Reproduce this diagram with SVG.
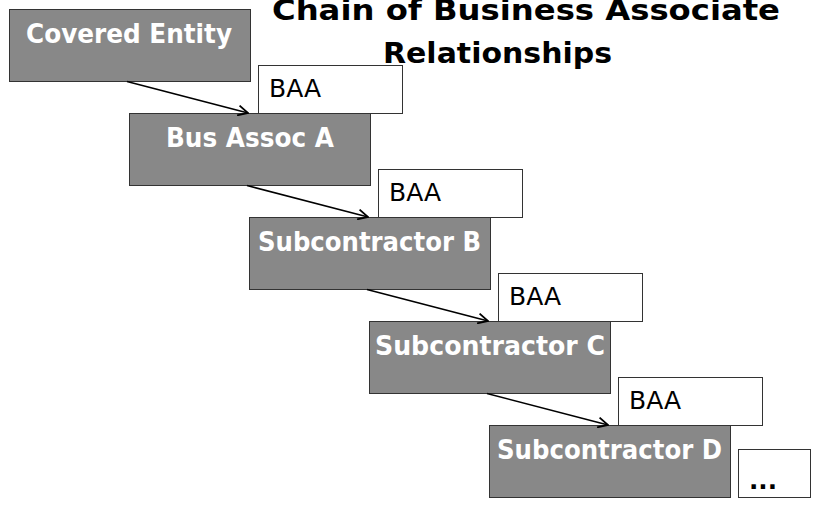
<svg xmlns="http://www.w3.org/2000/svg" width="834" height="506" viewBox="0 0 834 506">
<defs>
<style>
.node rect{fill:#888888;stroke:#333333;stroke-width:1}
.node text{fill:#ffffff;font-family:"DejaVu Sans",sans-serif;font-weight:bold;font-size:26px}
.baa rect{fill:#ffffff;stroke:#333333;stroke-width:1}
.baa text{fill:#000000;font-family:"DejaVu Sans",sans-serif;font-size:24px}
.title{fill:#000000;font-family:"DejaVu Sans",sans-serif;font-weight:bold;font-size:29px}
.conn line{stroke:#000000;stroke-width:1.6;fill:none}
</style>
<marker id="arr" viewBox="0 0 12 12" refX="11" refY="6" markerWidth="12" markerHeight="12" markerUnits="userSpaceOnUse" orient="auto">
<path d="M1,1 L11,6 L1,11" fill="none" stroke="#000000" stroke-width="1.8"/>
</marker>
</defs>
<rect width="834" height="506" fill="#ffffff"/>
<g id="title">
<text class="title" x="272" y="20" textLength="508" lengthAdjust="spacingAndGlyphs">Chain of Business Associate</text>
<text class="title" x="383" y="63" textLength="229" lengthAdjust="spacingAndGlyphs">Relationships</text>
</g>
<g id="covered-entity" class="node">
<rect x="9.5" y="9.5" width="241" height="72"/>
<text x="26" y="43" textLength="206" lengthAdjust="spacingAndGlyphs">Covered Entity</text>
</g>
<g id="baa-1" class="baa">
<rect x="258.5" y="65.5" width="144" height="48"/>
<text x="269" y="97" textLength="52" lengthAdjust="spacingAndGlyphs">BAA</text>
</g>
<g id="bus-assoc-a" class="node">
<rect x="129.5" y="113.5" width="241" height="72"/>
<text x="166" y="147" textLength="168" lengthAdjust="spacingAndGlyphs">Bus Assoc A</text>
</g>
<g id="baa-2" class="baa">
<rect x="378.5" y="169.5" width="144" height="48"/>
<text x="389" y="201" textLength="52" lengthAdjust="spacingAndGlyphs">BAA</text>
</g>
<g id="subcontractor-b" class="node">
<rect x="249.5" y="217.5" width="241" height="72"/>
<text x="258" y="251" textLength="223" lengthAdjust="spacingAndGlyphs">Subcontractor B</text>
</g>
<g id="baa-3" class="baa">
<rect x="498.5" y="273.5" width="144" height="48"/>
<text x="509" y="305" textLength="52" lengthAdjust="spacingAndGlyphs">BAA</text>
</g>
<g id="subcontractor-c" class="node">
<rect x="369.5" y="321.5" width="241" height="72"/>
<text x="375" y="355" textLength="230" lengthAdjust="spacingAndGlyphs">Subcontractor C</text>
</g>
<g id="baa-4" class="baa">
<rect x="618.5" y="377.5" width="144" height="48"/>
<text x="629" y="409" textLength="52" lengthAdjust="spacingAndGlyphs">BAA</text>
</g>
<g id="subcontractor-d" class="node">
<rect x="489.5" y="425.5" width="241" height="72"/>
<text x="497" y="459" textLength="225" lengthAdjust="spacingAndGlyphs">Subcontractor D</text>
</g>
<g id="more" class="baa">
<rect x="738.5" y="449.5" width="72" height="48"/>
<text x="749" y="489" style="font-weight:bold" textLength="28" lengthAdjust="spacingAndGlyphs">...</text>
</g>
<g id="connectors" class="conn">
<line x1="127" y1="81.5" x2="248" y2="113" marker-end="url(#arr)"/>
<line x1="247" y1="185.5" x2="368" y2="217" marker-end="url(#arr)"/>
<line x1="367" y1="289.5" x2="488" y2="321" marker-end="url(#arr)"/>
<line x1="487" y1="393.5" x2="608" y2="425" marker-end="url(#arr)"/>
</g>
</svg>
